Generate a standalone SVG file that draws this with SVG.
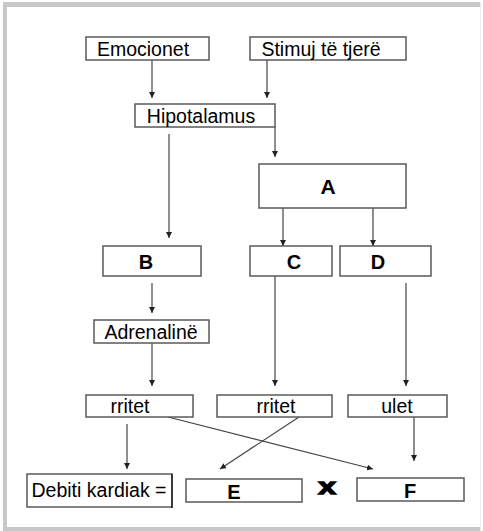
<svg xmlns="http://www.w3.org/2000/svg" width="483" height="531" viewBox="0 0 483 531">
<style>
.box{fill:#fff;stroke:#5a5a5a;stroke-width:1.5}
.t{font-family:"Liberation Sans",Arial,sans-serif;font-size:19.5px;fill:#000;text-anchor:middle}
.b{font-family:"Liberation Sans",Arial,sans-serif;font-size:20px;font-weight:bold;fill:#000;text-anchor:middle}
.c{stroke:#444;stroke-width:1.2;fill:none}
</style>
<defs>
<marker id="ah" viewBox="0 0 6 6" refX="6" refY="3" markerWidth="6" markerHeight="6" markerUnits="userSpaceOnUse" orient="auto">
<path d="M0,0 L6,3 L0,6 Z" fill="#222"/>
</marker>
</defs>
<rect width="483" height="531" fill="#fff"/>
<g id="frame" fill="#c8c8c8">
<rect x="3" y="2" width="478" height="5"/>
<rect x="3" y="2" width="4" height="529"/>
<rect x="3" y="527" width="478" height="4"/>
<rect x="480" y="2" width="1" height="529" fill="#ececec"/>
</g>
<g id="connectors">
<line class="c" x1="152" y1="60" x2="152" y2="98" marker-end="url(#ah)"/>
<line class="c" x1="267" y1="60" x2="267" y2="98" marker-end="url(#ah)"/>
<line class="c" x1="275" y1="127" x2="275" y2="157" marker-end="url(#ah)"/>
<line class="c" x1="169" y1="134" x2="169" y2="238" marker-end="url(#ah)"/>
<line class="c" x1="283" y1="208" x2="283" y2="246" marker-end="url(#ah)"/>
<line class="c" x1="373" y1="208" x2="373" y2="246" marker-end="url(#ah)"/>
<line class="c" x1="152" y1="283" x2="152" y2="313" marker-end="url(#ah)"/>
<line class="c" x1="152" y1="343" x2="152" y2="386" marker-end="url(#ah)"/>
<line class="c" x1="275" y1="276" x2="275" y2="386" marker-end="url(#ah)"/>
<line class="c" x1="406" y1="283" x2="406" y2="386" marker-end="url(#ah)"/>
<line class="c" x1="127" y1="424" x2="127" y2="469" marker-end="url(#ah)"/>
<line class="c" x1="168" y1="417" x2="373" y2="469" marker-end="url(#ah)"/>
<line class="c" x1="299" y1="417" x2="220" y2="469" marker-end="url(#ah)"/>
<line class="c" x1="414" y1="417" x2="414" y2="461" marker-end="url(#ah)"/>
</g>
<g id="emocionet"><rect class="box" x="86" y="37" width="123" height="23"/><text class="t" x="143" y="55.5">Emocionet</text></g>
<g id="stimuj"><rect class="box" x="250" y="37" width="156" height="23"/><text class="t" x="321" y="55.5">Stimuj të tjerë</text></g>
<g id="hipotalamus"><rect class="box" x="135" y="104" width="140" height="23"/><text class="t" x="201" y="122.5">Hipotalamus</text></g>
<g id="A"><rect class="box" x="259" y="164" width="147" height="44"/><text class="b" x="328" y="193.5" style="font-size:21px">A</text></g>
<g id="B"><rect class="box" x="103" y="246" width="98" height="30"/><text class="b" x="146" y="268.5">B</text></g>
<g id="C"><rect class="box" x="250" y="246" width="82" height="30"/><text class="b" x="294" y="268.5">C</text></g>
<g id="D"><rect class="box" x="340" y="246" width="91" height="30"/><text class="b" x="378" y="268.5">D</text></g>
<g id="adrenaline"><rect class="box" x="94" y="320" width="115" height="23"/><text class="t" x="151" y="338.5">Adrenalinë</text></g>
<g id="rritet1"><rect class="box" x="86" y="395" width="107" height="22"/><text class="t" x="130" y="412.5">rritet</text></g>
<g id="rritet2"><rect class="box" x="217" y="395" width="115" height="22"/><text class="t" x="276" y="412.5">rritet</text></g>
<g id="ulet"><rect class="box" x="348" y="395" width="99" height="22"/><text class="t" x="397" y="412.5">ulet</text></g>
<g id="debiti"><rect class="box" x="27" y="474" width="145" height="33"/><line x1="172" y1="474" x2="172" y2="508" stroke="#222" stroke-width="1.5"/><text class="t" x="99" y="496.5">Debiti kardiak =</text></g>
<g id="E"><rect class="box" x="186" y="479" width="116" height="23"/><text class="b" x="234" y="498.5">E</text></g>
<g id="times"><text class="b" x="0" y="0" transform="translate(327,494) scale(1.45,1)" style="font-size:22px;stroke:#000;stroke-width:1.3">x</text></g>
<g id="F"><rect class="box" x="357" y="478" width="107" height="23"/><text class="b" x="410" y="497.5">F</text></g>
</svg>
